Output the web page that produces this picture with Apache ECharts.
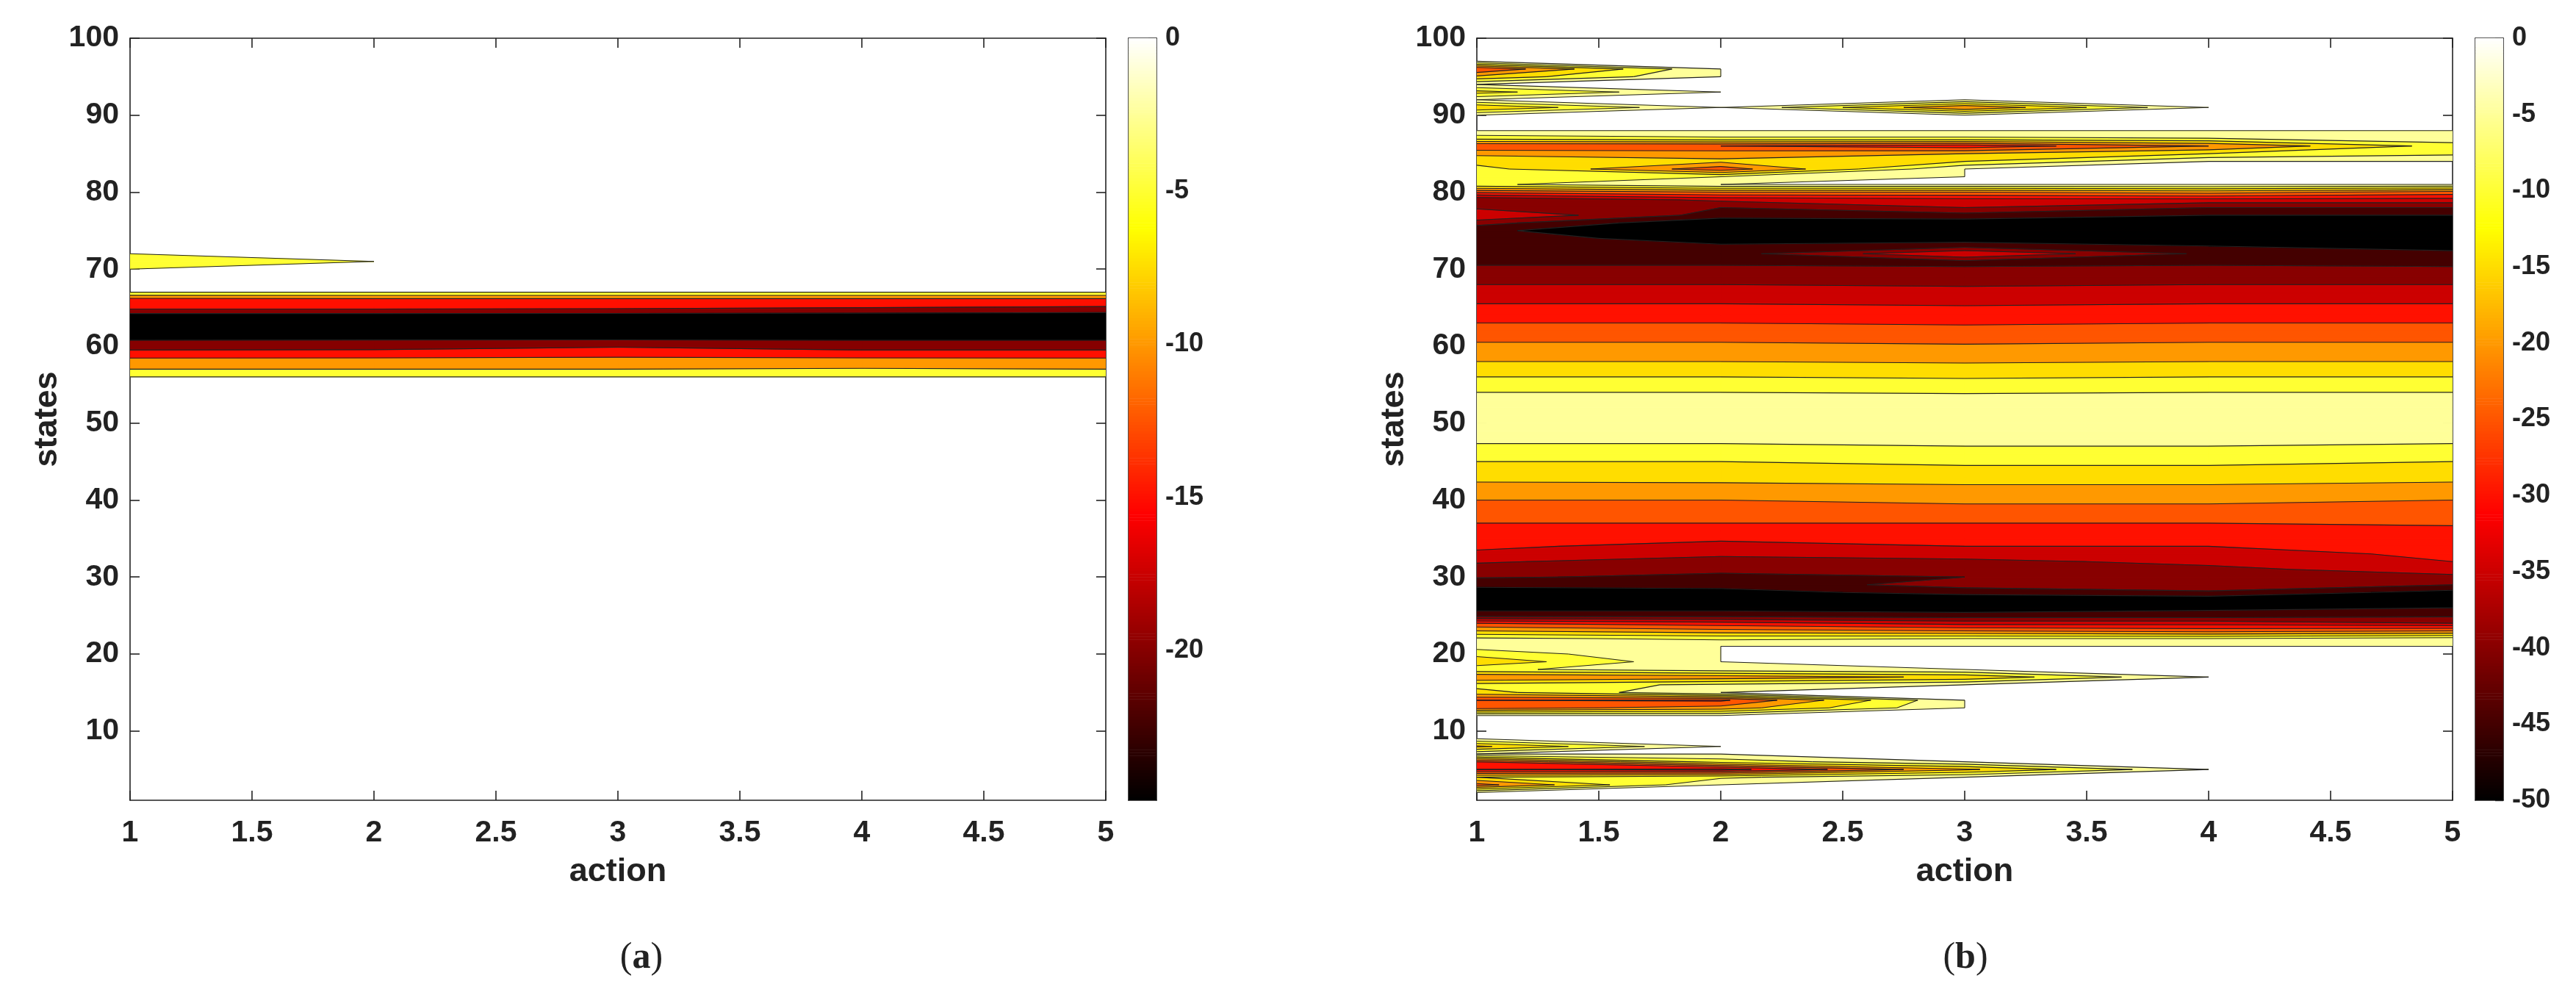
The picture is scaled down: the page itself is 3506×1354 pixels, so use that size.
<!DOCTYPE html>
<html><head><meta charset="utf-8">
<style>html,body{margin:0;padding:0;background:#fff}#c{width:3506px;height:1354px}</style>
<script src="https://cdn.jsdelivr.net/npm/echarts@6/dist/echarts.min.js"></script>
</head><body><div id="c"></div>
<script>
// ---------- data ----------
const actions = [1, 2, 3, 4, 5];
const xTicks = [1, 1.5, 2, 2.5, 3, 3.5, 4, 4.5, 5];
const yTicks = [10, 20, 30, 40, 50, 60, 70, 80, 90, 100];
const levelsA = [0, -5, -10, -15, -20, -25];
const levelsB = [0, -5, -10, -15, -20, -25, -30, -35, -40, -45, -50];
const barTicksA = [0, -5, -10, -15, -20];
const barTicksB = [0, -5, -10, -15, -20, -25, -30, -35, -40, -45, -50];
const barMinA = -24.9, barMinB = -50;
// panel (a): states that are not all zero  [state, a1..a5]
const rowsA = [
 [57, -5, -5, -5, -4.6, -5],
 [58, -8.2, -8.2, -8, -8, -8.2],
 [59, -12.2, -12, -11.6, -12.2, -12.2],
 [60, -18, -17.6, -15.6, -18, -18],
 [61, -20.6, -20.6, -21, -20.6, -20.6],
 [62, -24.6, -24.8, -24.8, -24.8, -24.6],
 [63, -24.9, -24.9, -24.9, -24.9, -24.9],
 [64, -22, -22, -22, -22, -22.5],
 [65, -13.5, -13.5, -14, -15, -15.5],
 [66, -12.5, -12, -12, -12, -12],
 [71, -4, 0, 0, 0, 0]
];
// panel (b): one row per state 1..100, columns action 1..5
const rowsB = [
 [0,0,0,0,0],[0,0,0,0,0],[-22,0,0,0,0],[-10,-6,0,0,0],[-30,-32,-16,0,0],
 [-25,-8,0,0,0],[0,0,0,0,0],[-16,0,0,0,0],[0,0,0,0,0],[0,0,0,0,0],
 [0,0,0,0,0],[0,0,0,0,0],[-22,-18,0,0,0],[-25,-26,0,0,0],[-12,0,0,0,0],
 [-8,-4,0,0,0],[-20,-18,-14,0,0],[-6,-2,0,0,0],[-14,0,0,0,0],[-8,0,0,0,0],
 [-3,0,0,0,0],[-4,-6,-5,-5,-3],[-15,-18,-20,-22,-20],[-25,-28,-32,-32,-35],[-42,-42,-43,-43,-41],
 [-47,-47,-48,-46,-45],[-50,-50,-50,-49,-47],[-47,-47,-43,-41,-47],[-44,-43,-38,-36,-40],[-39.5,-41,-40,-38,-36],
 [-37,-39,-38,-36,-33],[-34.5,-37,-36,-34,-30],[-31,-34,-33,-32,-29],[-29,-32,-30,-30,-28],[-28,-29,-28,-28,-27],
 [-26.5,-27,-26.5,-26.5,-26],[-25,-25,-25,-25,-24.5],[-23,-23,-23,-23,-23],[-21,-21,-21,-21,-21],[-20,-20,-19,-19,-20],
 [-18,-18,-17,-17,-18],[-15.5,-15.5,-15,-15,-15.5],[-14,-13.5,-13,-13,-14],[-12,-12,-11,-11,-12],[-10,-10,-9,-9,-10],
 [-8,-7.5,-7,-7,-8],[-5.5,-5.5,-5,-5,-5.5],[-4,-4,-3.6,-3.8,-4],[-3,-3,-2.8,-3,-3],[-2.5,-2.5,-2.4,-2.5,-2.5],
 [-2.5,-2.5,-2.5,-2.5,-2.5],[-3,-3,-3,-3,-3],[-4,-4,-4,-4,-4],[-5,-5,-5.2,-5,-5],[-7.5,-7.5,-8,-7.5,-7.5],
 [-10,-10,-10.5,-10,-10],[-12.5,-12.5,-13,-12.5,-12.5],[-15,-15,-15.5,-15,-15],[-17,-17,-17.5,-17,-17],[-19,-19,-19.5,-19,-19],
 [-21,-21,-21.5,-21,-21],[-23,-23,-23.5,-23,-23],[-25,-25,-25.5,-25,-25],[-27,-27,-27.5,-27,-27],[-29,-29,-29.5,-29,-29],
 [-31,-31,-31.5,-31,-31],[-33,-33,-33.5,-33,-33],[-35,-35,-35.5,-35,-35],[-37,-37,-37.5,-37,-37],[-39,-39,-39.5,-39,-39],
 [-41,-41,-41,-41,-42],[-43,-42,-30,-41,-43],[-45,-44,-42,-45,-48],[-42,-48,-48,-48,-50],[-44,-50,-50,-50,-50],
 [-38,-50,-48,-48,-48],[-30,-42,-42,-45,-45],[-36,-40,-35,-40,-40],[-40,-34,-32,-32,-32],[-24,-20,-20,-18,-22],
 [-6,0,0,0,0],[-6,-5,0,0,0],[-8,-23,0,0,0],[-12,-14,-10,0,0],[-16,-17,-15,-10,-6],
 [-25,-25,-28,-20,-8],[-8,-6,-6,-5,-1],[0,0,0,0,0],[0,0,0,0,0],[0,0,0,0,0],
 [-15,0,-20,0,0],[0,0,0,0,0],[-12,0,0,0,0],[0,0,0,0,0],[-14,0,0,0,0],
 [-25,0,0,0,0],[0,0,0,0,0],[0,0,0,0,0],[0,0,0,0,0],[0,0,0,0,0]
];
// ---------- build ----------
function gridFromSparse(rows){
  const g = [];
  for (let s = 1; s <= 100; s++) g.push([0,0,0,0,0]);
  rows.forEach(r => { g[r[0]-1] = r.slice(1); });
  return g;
}
function hotRev(t){
  t = Math.max(0, Math.min(1, t));
  let r, gr, b;
  if (t <= 0.25) { r = 1; gr = 1; b = 1 - t/0.25; }
  else if (t <= 0.625) { r = 1; gr = 1 - (t-0.25)/0.375; b = 0; }
  else { r = 1 - (t-0.625)/0.375; gr = 0; b = 0; }
  return 'rgb(' + Math.round(r*255) + ',' + Math.round(gr*255) + ',' + Math.round(b*255) + ')';
}
function contours(Z, levels, vmin){
  const fills = [], lines = [];
  const cells = [];
  for (let s = 0; s < Z.length-1; s++) for (let a = 0; a < actions.length-1; a++) {
    const v = [Z[s][a], Z[s][a+1], Z[s+1][a+1], Z[s+1][a]];
    if (v.every(q => q >= 0)) continue;
    cells.push([
      [actions[a], s+1, v[0]], [actions[a+1], s+1, v[1]],
      [actions[a+1], s+2, v[2]], [actions[a], s+2, v[3]]
    ]);
  }
  for (let i = 0; i < levels.length-1; i++) {
    const top = levels[i], col = hotRev(levels[i+1]/vmin);
    cells.forEach(c => {
      const out = [];
      const cross = [];
      for (let k = 0; k < 4; k++) {
        const p = c[k], q = c[(k+1)%4];
        const pin = p[2] < top, qin = q[2] < top;
        if (pin) out.push([p[0], p[1]]);
        if (pin !== qin) {
          const t = (top-p[2])/(q[2]-p[2]);
          const m = [p[0]+t*(q[0]-p[0]), p[1]+t*(q[1]-p[1])];
          out.push(m); cross.push(m);
        }
      }
      if (out.length >= 3) fills.push({pts: out, color: col});
      if (cross.length >= 2) lines.push([cross[0], cross[1]]);
      if (cross.length === 4) lines.push([cross[2], cross[3]]);
    });
  }
  return {fills, lines};
}
const A = contours(gridFromSparse(rowsA), levelsA, barMinA);
const B = contours(rowsB, levelsB, barMinB);

const INK = '#222';
const FONT = '"Liberation Sans", Arial, sans-serif';
function seriesOf(c, xi, yi){
  return [{
    type:'custom', xAxisIndex:xi, yAxisIndex:yi, coordinateSystem:'cartesian2d', silent:true,
    clip:true, progressive:0, animation:false, z:2,
    data:c.fills.map((f,i)=>[f.pts[0][0], f.pts[0][1], i]),
    encode:{x:0,y:1},
    renderItem:(p,api)=>{
      const f = c.fills[p.dataIndex];
      return {type:'polygon', shape:{points:f.pts.map(q=>api.coord(q))},
        style:{fill:f.color, stroke:f.color, lineWidth:0.8}};
    }
  },{
    type:'custom', xAxisIndex:xi, yAxisIndex:yi, coordinateSystem:'cartesian2d', silent:true,
    clip:true, progressive:0, animation:false, z:3,
    data:c.lines.map((l,i)=>[l[0][0], l[0][1], i]),
    encode:{x:0,y:1},
    renderItem:(p,api)=>{
      const l = c.lines[p.dataIndex];
      return {type:'polyline', shape:{points:l.map(q=>api.coord(q))},
        style:{stroke:INK, lineWidth:1.1, fill:null}};
    }
  }];
}
function barSeries(vmin, xi, yi){
  const steps = [];
  for (let i = 0; i < 256; i++) steps.push([0, vmin*i/256, vmin*(i+1)/256]);
  return {
    type:'custom', xAxisIndex:xi, yAxisIndex:yi, coordinateSystem:'cartesian2d', silent:true,
    progressive:0, animation:false, clip:true, z:2,
    data:steps, encode:{y:1},
    renderItem:(p,api)=>{
      const s = steps[p.dataIndex];
      const a = api.coord([0, s[1]]), b = api.coord([1, s[2]]);
      return {type:'rect', shape:{x:a[0], y:a[1], width:b[0]-a[0], height:b[1]-a[1]+0.6},
        style:{fill:hotRev(((s[1]+s[2])/2)/vmin)}};
    }
  };
}
const grids = [
  {left:177, top:52, width:1328, height:1037},
  {left:1536, top:52, width:38, height:1037},
  {left:2010, top:52, width:1328, height:1037},
  {left:3369, top:52, width:38, height:1037}
];
const axLine = {show:true, onZero:false, lineStyle:{color:INK, width:1.6}};
const lab = {color:INK, fontFamily:FONT, fontWeight:'bold', fontSize:41};
const xAxes = [], yAxes = [], series = [];
function plot(gi, c){
  const xb = xAxes.length, yb = yAxes.length;
  xAxes.push({gridIndex:gi, type:'value', position:'bottom', min:1, max:5,
    name:'action', nameLocation:'middle', nameGap:75,
    nameTextStyle:{color:INK, fontFamily:FONT, fontWeight:'bold', fontSize:45},
    axisLine:axLine, splitLine:{show:false},
    axisTick:{show:true, inside:true, length:13, lineStyle:{color:INK, width:1.6}, customValues:xTicks},
    axisLabel:Object.assign({margin:24, customValues:xTicks, hideOverlap:false, showMinLabel:true, showMaxLabel:true}, lab)});
  xAxes.push({gridIndex:gi, type:'value', position:'top', min:1, max:5,
    axisLine:axLine, splitLine:{show:false},
    axisTick:{show:true, inside:true, length:13, lineStyle:{color:INK, width:1.6}, customValues:xTicks},
    axisLabel:{show:false}});
  yAxes.push({gridIndex:gi, type:'value', position:'left', min:1, max:100,
    name:'states', nameLocation:'middle', nameGap:90, nameRotate:90,
    nameTextStyle:{color:INK, fontFamily:FONT, fontWeight:'bold', fontSize:45},
    axisLine:axLine, splitLine:{show:false},
    axisTick:{show:true, inside:true, length:13, lineStyle:{color:INK, width:1.6}, customValues:yTicks},
    axisLabel:Object.assign({margin:15, customValues:yTicks, hideOverlap:false}, lab)});
  yAxes.push({gridIndex:gi, type:'value', position:'right', min:1, max:100,
    axisLine:axLine, splitLine:{show:false},
    axisTick:{show:true, inside:true, length:13, lineStyle:{color:INK, width:1.6}, customValues:yTicks},
    axisLabel:{show:false}});
  series.push(...seriesOf(c, xb, yb));
}
function bar(gi, vmin, ticks){
  const xb = xAxes.length, yb = yAxes.length;
  ['bottom','top'].forEach(pos=>xAxes.push({gridIndex:gi, type:'value', position:pos, min:0, max:1,
    axisLine:axLine, axisTick:{show:false}, axisLabel:{show:false}, splitLine:{show:false}}));
  yAxes.push({gridIndex:gi, type:'value', position:'right', min:vmin, max:0,
    axisLine:axLine, splitLine:{show:false},
    axisTick:{show:true, inside:true, length:11, lineStyle:{color:INK, width:1.4}, customValues:ticks},
    axisLabel:{margin:12, customValues:ticks, hideOverlap:false, color:INK, fontFamily:FONT, fontWeight:'bold', fontSize:36}});
  yAxes.push({gridIndex:gi, type:'value', position:'left', min:vmin, max:0,
    axisLine:axLine, axisTick:{show:false}, axisLabel:{show:false}, splitLine:{show:false}});
  series.push(barSeries(vmin, xb, yb));
}
plot(0, A); bar(1, barMinA, barTicksA);
plot(2, B); bar(3, barMinB, barTicksB);
const cap = t => ({text:'{p|(}{b|'+t+'}{p|)}', top:1274, textAlign:'center',
  textStyle:{rich:{p:{fontFamily:'"Liberation Serif",serif', fontSize:50, fontWeight:'normal', color:INK},
                   b:{fontFamily:'"Liberation Serif",serif', fontSize:50, fontWeight:'bold', color:INK}}}});
const chart = echarts.init(document.getElementById('c'), null, {renderer:'canvas', devicePixelRatio:1});
chart.setOption({
  animation:false, backgroundColor:'#fff',
  title:[Object.assign(cap('a'),{left:868}), Object.assign(cap('b'),{left:2670})],
  grid:grids, xAxis:xAxes, yAxis:yAxes, series:series
});
</script></body></html>
